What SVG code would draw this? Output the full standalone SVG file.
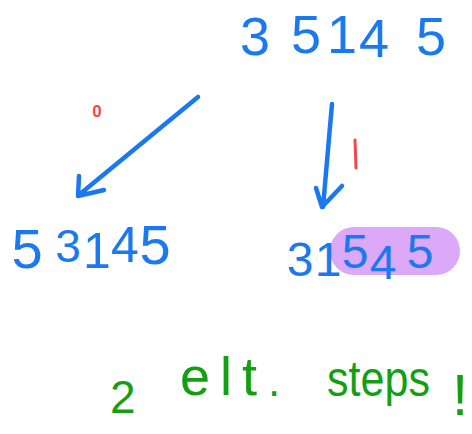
<svg xmlns="http://www.w3.org/2000/svg" width="472" height="434" viewBox="0 0 472 434">
<defs>
<style>
.blue{fill:#1a78f0;font-family:"Liberation Sans",Arial,sans-serif;text-anchor:middle}
.red{fill:#f04848;font-family:"Liberation Sans",Arial,sans-serif;text-anchor:middle}
.green{fill:#12a012;font-family:"Liberation Sans",Arial,sans-serif}
.arrow{fill:none;stroke:#1a78f0;stroke-width:4.5;stroke-linecap:round;stroke-linejoin:round}
</style>
</defs>
<rect width="472" height="434" fill="#ffffff"/>
<g id="top-number" class="blue" font-size="54">
<text x="255" y="55">3</text>
<text x="306" y="53">5</text>
<text x="342" y="53">1</text>
<text x="374" y="57">4</text>
<text x="431" y="55">5</text>
</g>
<g id="connectors">
<path class="arrow" d="M198,97 L80,194 M79,176 L78,196 L104,190"/>
<path class="arrow" d="M332,104 L323,207 M316,188 L322,207 L342,186"/>
</g>
<g id="label-0" class="red" font-size="17" font-weight="bold"><text x="97" y="117">0</text></g>
<g id="label-1"><line x1="355" y1="140" x2="356" y2="168" stroke="#f04848" stroke-width="3" stroke-linecap="round"/></g>
<g id="left-number" class="blue">
<text x="27" y="268" font-size="56">5</text>
<text x="68" y="262" font-size="46">3</text>
<text x="97" y="268" font-size="50">1</text>
<text x="125" y="262" font-size="50">4</text>
<text x="155" y="264" font-size="56">5</text>
</g>
<g id="right-number">
<rect x="330" y="227" width="130" height="48" rx="24" fill="#dca8f8"/>
<g class="blue" font-size="48">
<text x="300" y="276">3</text>
<text x="328" y="276">1</text>
<text x="355" y="268">5</text>
<text x="383" y="279">4</text>
<text x="420" y="268">5</text>
</g>
</g>
<g id="note" class="green">
<text x="110" y="413" font-size="46">2</text>
<text x="180" y="395" font-size="54" textLength="77" lengthAdjust="spacing">elt</text>
<text x="268" y="396" font-size="44">.</text>
<text x="327" y="396" font-size="50" textLength="103" lengthAdjust="spacingAndGlyphs">steps</text>
<text x="452" y="415" font-size="58">!</text>
</g>
</svg>
